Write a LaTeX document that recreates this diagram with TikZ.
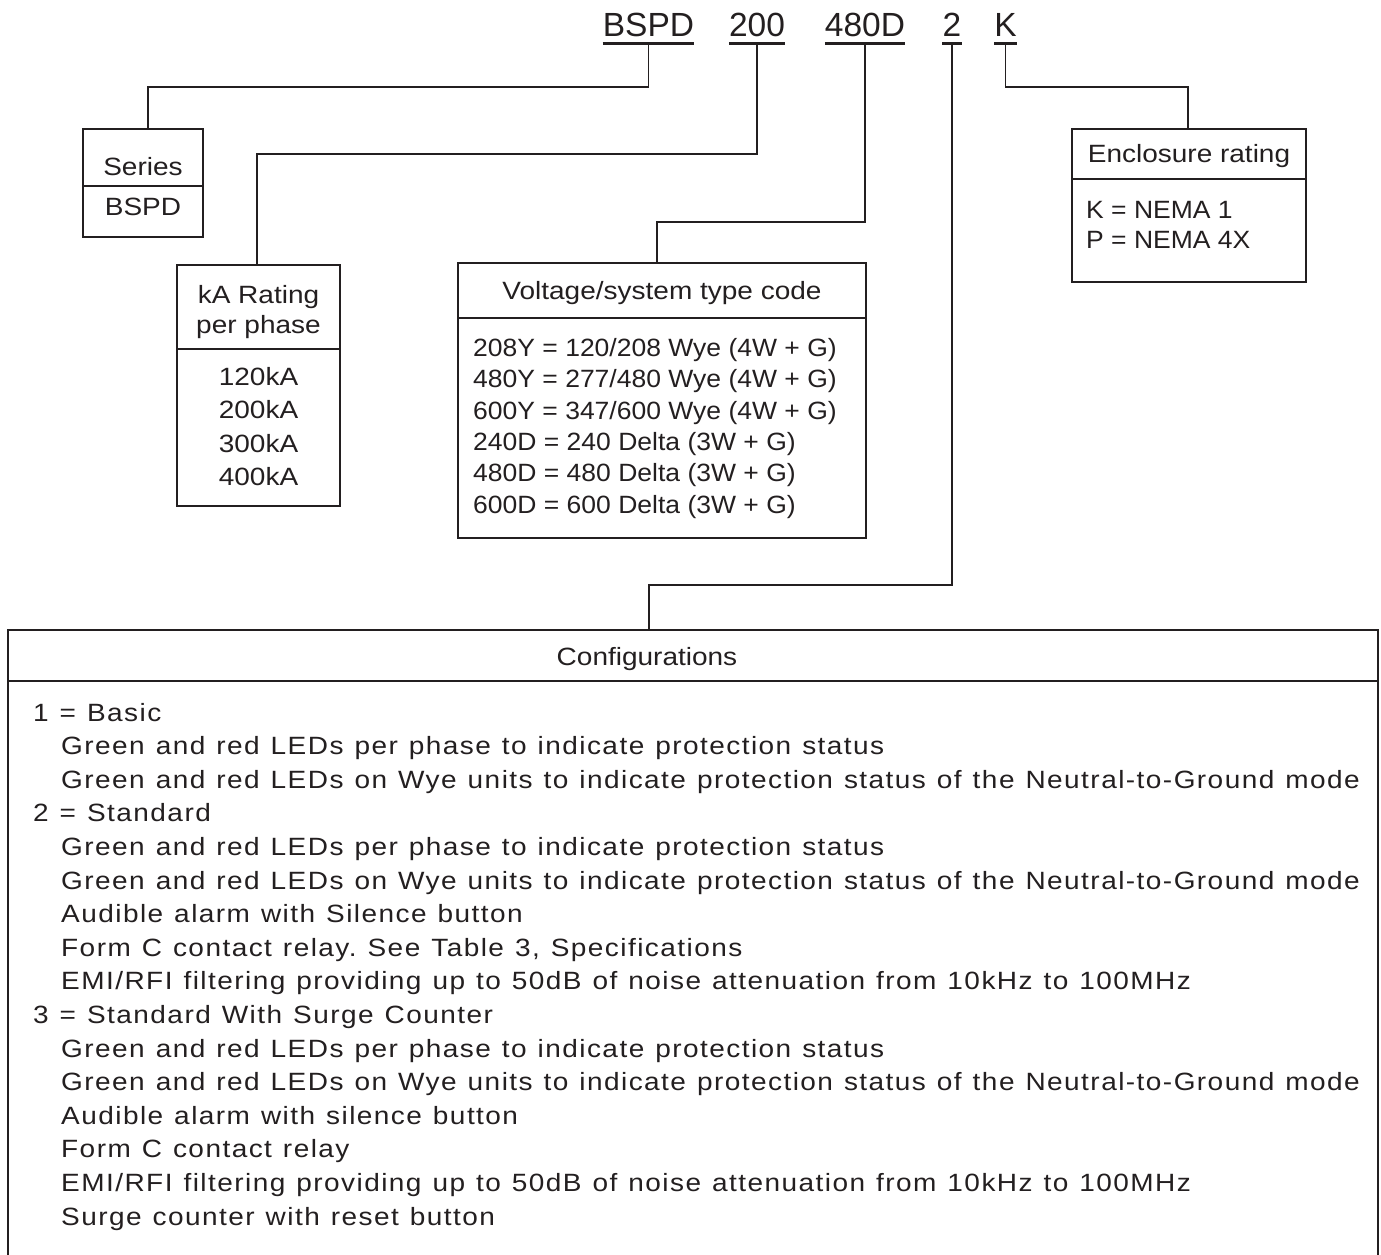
\documentclass[tikz,border=0pt]{standalone}
\usepackage{fontspec}
\setmainfont{Liberation Sans}
\newfontfamily\bodyfont{Liberation Sans}[FakeStretch=1.12,LetterSpace=5.8,WordSpace=1.19]
\newfontfamily\boxfont{Liberation Sans}[FakeStretch=1.12]
\newfontfamily\voltfont{Liberation Sans}[FakeStretch=1.06]
\definecolor{ink}{HTML}{231F20}
\frenchspacing
\tikzset{
  box/.style={draw=ink, line width=1.6pt, rectangle, inner sep=0pt},
  divl/.style={draw=ink, line width=1.6pt},
  conn/.style={draw=ink, line width=1.5pt},
  uline/.style={draw=ink, line width=2.7pt},
  txt/.style={inner sep=0pt, anchor=base, text=ink, font=\boxfont\fontsize{25}{30}\selectfont},
  ltxt/.style={inner sep=0pt, anchor=base west, text=ink, font=\voltfont\fontsize{25}{30}\selectfont},
  vtxt/.style={inner sep=0pt, anchor=base west, text=ink, font=\voltfont\fontsize{25}{30}\selectfont},
  body/.style={inner sep=0pt, anchor=base west, text=ink, font=\bodyfont\fontsize{25}{30}\selectfont\frenchspacing},
  codetxt/.style={inner sep=0pt, anchor=base, text=ink, font=\fontsize{33.5}{40}\selectfont},
}
\begin{document}
\begin{tikzpicture}[x=1pt,y=-1pt]
\useasboundingbox (0,0) rectangle (1381,1255);

% ---- code line ----
\node[codetxt] (c1) at (648.5,37) {BSPD};
\node[codetxt] (c2) at (757,37) {200};
\node[codetxt] (c3) at (865,37) {480D};
\node[codetxt] (c4) at (952,37) {2};
\node[codetxt] (c5) at (1005.5,37) {K};
\foreach \c in {c1,c2,c3,c4,c5}{
  \draw[uline] ([yshift=-6.5pt]\c.base west) -- ([yshift=-6.5pt]\c.base east);
  \coordinate (u-\c) at ([yshift=-6.5pt]\c.base);
}

% ---- boxes ----
\node[box, minimum width=120pt, minimum height=108pt] (series) at (143,183) {};
\draw[divl] (series.west |- 0,186) -- (series.east |- 0,186);
\node[txt] (t-series) at (143,175) {Series};
\node[txt] (t-bspd) at (143,215) {BSPD};

\node[box, minimum width=163pt, minimum height=241pt] (ka) at (258.5,385.5) {};
\draw[divl] (ka.west |- 0,349) -- (ka.east |- 0,349);
\node[txt] (t-ka1) at (258.5,303) {kA Rating};
\node[txt] (t-ka2) at (258.5,333) {per phase};
\node[txt] (ka120) at (258.5,385) {120kA};
\node[txt] (ka200) at (258.5,418.5) {200kA};
\node[txt] (ka300) at (258.5,452) {300kA};
\node[txt] (ka400) at (258.5,485.5) {400kA};

\node[box, minimum width=408pt, minimum height=275pt] (volt) at (662,400.5) {};
\draw[divl] (volt.west |- 0,318) -- (volt.east |- 0,318);
\node[txt] (t-volt) at (662,299) {Voltage/system type code};
\node[vtxt] (v1) at (473,356.5) {208Y = 120/208 Wye (4W + G)};
\node[vtxt] (v2) at (473,387.8) {480Y = 277/480 Wye (4W + G)};
\node[vtxt] (v3) at (473,419.1) {600Y = 347/600 Wye (4W + G)};
\node[vtxt] (v4) at (473,450.4) {240D = 240 Delta (3W + G)};
\node[vtxt] (v5) at (473,481.7) {480D = 480 Delta (3W + G)};
\node[vtxt] (v6) at (473,513) {600D = 600 Delta (3W + G)};

\node[box, minimum width=234pt, minimum height=153pt] (enc) at (1189,205.5) {};
\draw[divl] (enc.west |- 0,179) -- (enc.east |- 0,179);
\node[txt] (t-enc) at (1189,162) {Enclosure rating};
\node[ltxt] (e1) at (1086,218) {K = NEMA 1};
\node[ltxt] (e2) at (1086,248) {P = NEMA 4X};

% configurations box (bottom edge runs off the page)
\node[inner sep=0pt, minimum width=1370pt, minimum height=625pt] (cfg) at (693,942.5) {};
\draw[divl] (cfg.south west) |- (cfg.north east) -- (cfg.south east);
\draw[divl] (cfg.west |- 0,681) -- (cfg.east |- 0,681);
\node[txt] (t-cfg) at (647,665) {Configurations};

\node[body] (l0)  at (33,721.0)  {1 = Basic};
\node[body] (l1)  at (61,754.6)  {Green and red LEDs per phase to indicate protection status};
\node[body] (l2)  at (61,788.2)  {Green and red LEDs on Wye units to indicate protection status of the Neutral-to-Ground mode};
\node[body] (l3)  at (33,821.8)  {2 = Standard};
\node[body] (l4)  at (61,855.4)  {Green and red LEDs per phase to indicate protection status};
\node[body] (l5)  at (61,889.0)  {Green and red LEDs on Wye units to indicate protection status of the Neutral-to-Ground mode};
\node[body] (l6)  at (61,922.6)  {Audible alarm with Silence button};
\node[body] (l7)  at (61,956.2)  {Form C contact relay. See Table 3, Specifications};
\node[body] (l8)  at (61,989.8)  {EMI/RFI filtering providing up to 50dB of noise attenuation from 10kHz to 100MHz};
\node[body] (l9)  at (33,1023.4) {3 = Standard With Surge Counter};
\node[body] (l10) at (61,1057.0) {Green and red LEDs per phase to indicate protection status};
\node[body] (l11) at (61,1090.6) {Green and red LEDs on Wye units to indicate protection status of the Neutral-to-Ground mode};
\node[body] (l12) at (61,1124.2) {Audible alarm with silence button};
\node[body] (l13) at (61,1157.8) {Form C contact relay};
\node[body] (l14) at (61,1191.4) {EMI/RFI filtering providing up to 50dB of noise attenuation from 10kHz to 100MHz};
\node[body] (l15) at (61,1225.0) {Surge counter with reset button};

% ---- connectors ----
\coordinate (j1) at (148,87);
\coordinate (j2) at (257,154);
\coordinate (j3) at (657,222);
\coordinate (j4) at (649,585);
\coordinate (j5) at (1188,87);
\draw[conn] (u-c1) |- (j1) -- (j1 |- series.north);
\draw[conn] (u-c2) |- (j2) -- (j2 |- ka.north);
\draw[conn] (u-c3) |- (j3) -- (j3 |- volt.north);
\draw[conn] (u-c4) |- (j4) -- (j4 |- cfg.north);
\draw[conn] (u-c5) |- (j5) -- (j5 |- enc.north);
\end{tikzpicture}
\end{document}
